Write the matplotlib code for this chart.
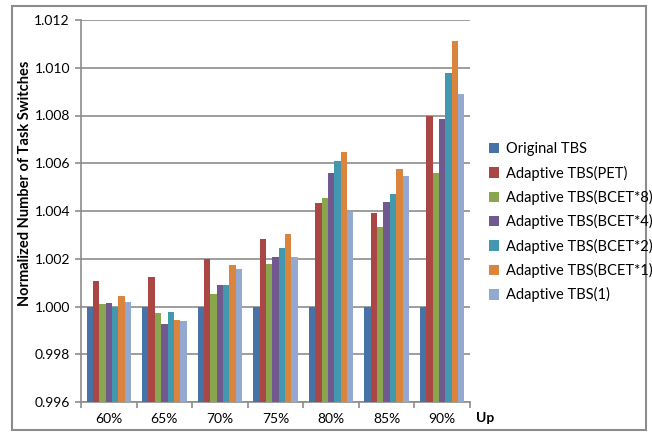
import numpy as np
import matplotlib.pyplot as plt
from matplotlib.patches import Rectangle

groups = ['60%', '65%', '70%', '75%', '80%', '85%', '90%']
series = ['Original TBS', 'Adaptive TBS(PET)', 'Adaptive TBS(BCET*8)', 'Adaptive TBS(BCET*4)',
          'Adaptive TBS(BCET*2)', 'Adaptive TBS(BCET*1)', 'Adaptive TBS(1)']

original = [1.0000, 1.0000, 1.0000, 1.0000, 1.0000, 1.0000, 1.0000]
pet = [1.00105, 1.00123, 1.00200, 1.00284, 1.00434, 1.00392, 1.00800]
bcet8 = [1.00011, 0.99974, 1.00054, 1.00180, 1.00453, 1.00331, 1.00561]
bcet4 = [1.00015, 0.99928, 1.00092, 1.00209, 1.00558, 1.00436, 1.00785]
bcet2 = [1.00000, 0.99979, 1.00092, 1.00243, 1.00608, 1.00470, 1.00978]
bcet1 = [1.00042, 0.99944, 1.00173, 1.00302, 1.00649, 1.00575, 1.01112]
tbs1 = [1.00020, 0.99940, 1.00155, 1.00207, 1.00397, 1.00545, 1.00892]

data = [original, pet, bcet8, bcet4, bcet2, bcet1, tbs1]
colors = ['#4672A8', '#AA4643', '#89A54E', '#71588F', '#4198AF', '#DB843D', '#93A9CF']

plt.rcParams['font.family'] = ['Lato', 'DejaVu Sans']

fig = plt.figure(figsize=(6.52, 4.34), dpi=100)
ax = fig.add_axes([81/652, 32/434, 389/652, 382/434])

x = np.arange(len(groups))
w = 0.8 / len(series)
for i, vals in enumerate(data):
    ax.bar(x - 0.4 + w * (i + 0.5), np.array(vals) - 0.996, w, bottom=0.996,
           color=colors[i], label=series[i], zorder=3)

ax.set_xlim(-0.5, len(groups) - 0.5)
ax.set_ylim(0.996, 1.012)
ax.set_yticks(np.arange(0.996, 1.0121, 0.002))
ax.set_yticklabels(['%.3f' % v for v in np.arange(0.996, 1.0121, 0.002)], fontsize=10)
ax.yaxis.grid(True, color='#8C8C8C', linewidth=1.2, zorder=0)
ax.set_axisbelow(True)

ax.set_xticks(x)
ax.set_xticklabels(groups, fontsize=10)
ax.tick_params(axis='x', length=0, pad=8)
ax.set_xticks(np.arange(-0.5, len(groups)), minor=True)
ax.tick_params(axis='x', which='minor', length=4, color='#8C8C8C', width=1.2)
ax.tick_params(axis='y', length=4, color='#8C8C8C', width=1.2, pad=4)

for s in ['top', 'right']:
    ax.spines[s].set_visible(False)
for s in ['left', 'bottom']:
    ax.spines[s].set_color('#8C8C8C')
    ax.spines[s].set_linewidth(1.2)

# y label sits a bit above the axis centre, as in the original
fig.text(25/652, 1 - 183/434, 'Normalized Number of Task Switches', fontsize=10.5,
         fontweight='bold', rotation=90, ha='center', va='center')
fig.text(476/652, 1 - 418/434, 'Up', fontsize=10, fontweight='bold', va='center')

fig.legend(loc='upper left', bbox_to_anchor=(476/652, 1 - 129/434), frameon=False,
           fontsize=10.5, handlelength=0.7, handleheight=0.7, handletextpad=0.45,
           labelspacing=0.64)

fig.patches.append(Rectangle((12/652, 4/434), 634/652, 424/434, transform=fig.transFigure,
                             fill=False, edgecolor='#8C8C8C', linewidth=1.5))

fig.savefig('out.png', dpi=100)
